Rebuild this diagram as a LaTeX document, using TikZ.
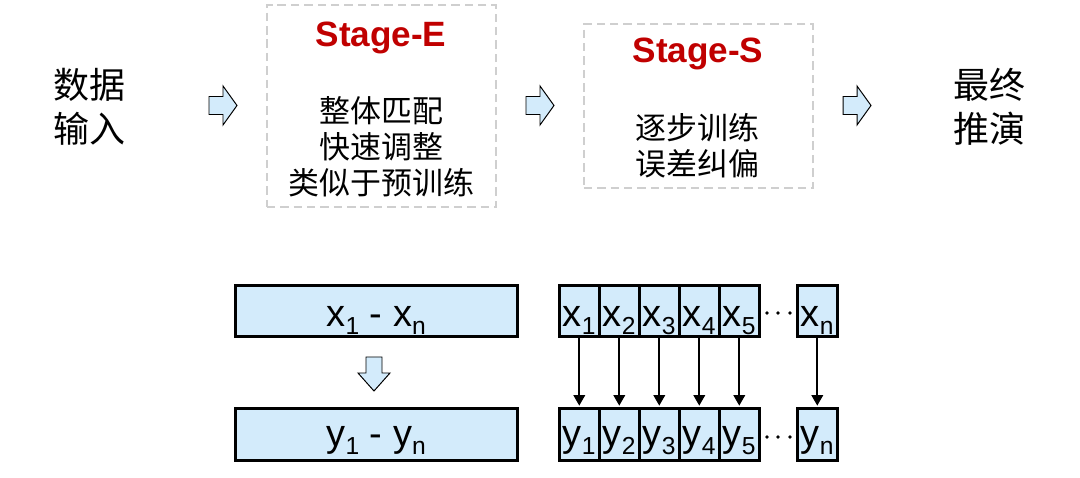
\documentclass[tikz,border=0pt]{standalone}
\usepackage{fontspec}
\setmainfont{Liberation Sans}
\newfontfamily\cjk{Noto Sans CJK SC}
\usetikzlibrary{arrows.meta}
\definecolor{cellblue}{HTML}{D3EBFB}
\definecolor{stagered}{HTML}{C00000}
\definecolor{dashgray}{HTML}{CFCFCF}
\newcommand{\subidx}[1]{\raisebox{-5.7pt}{\fontsize{17.5}{17.5}\selectfont #1}}
\newcommand{\rightflow}[1]{\draw[flowarrow] (#1) ++(0,-9) -- ++(14,0) -- ++(0,-10.5) -- ++(14,19.5) -- ++(-14,19.5) -- ++(0,-10.5) -- ++(-14,0) -- cycle;}
\tikzset{
  cellbox/.style={draw, line width=1.8pt, fill=cellblue, inner sep=0pt, minimum width=1cm, anchor=north west, font=\fontsize{27}{27}\selectfont},
  xrow/.style={text height=29.2pt, text depth=7.1pt},
  yrow/.style={text height=27pt, text depth=10pt},
  stagebox/.style={draw=dashgray, line width=1.4pt, dash pattern=on 6pt off 3.5pt, inner sep=0pt},
  stagetitle/.style={anchor=base, text=stagered, font=\bfseries\fontsize{25}{25}\selectfont},
  cjkbig/.style={align=center, font=\cjk\fontsize{25.6}{31.3}\selectfont},
  cjkbody/.style={align=center, font=\cjk\fontsize{22}{25.6}\selectfont},
  flowarrow/.style={draw=black, line width=0.7pt, fill=cellblue},
  cellarrow/.style={-{Triangle[length=7.5pt,width=8pt]}, line width=1.7pt, shorten >=0.9pt}
}
\begin{document}
\begin{tikzpicture}[x=0.025cm,y=-0.025cm]
    \useasboundingbox (0,0) rectangle (1080,478);
    %% top row: input, two stages, output
    \node (input) [cjkbig] at (89,107) {数据\\输入};
    \node (stageE) [stagebox, minimum width=5.725cm, minimum height=5.05cm] at (381.5,106) {};
    \node (titleE) [stagetitle] at (381,47) {Stage-E};
    \node (bodyE) [cjkbody] at (381.5,147) {整体匹配\\快速调整\\类似于预训练};
    \node (stageS) [stagebox, minimum width=5.725cm, minimum height=4.1cm] at (698.5,106) {};
    \node (titleS) [stagetitle] at (698,63) {Stage-S};
    \node (bodyS) [cjkbody] at (697.5,146) {逐步训练\\误差纠偏};
    \node (output) [cjkbig] at (989.5,107) {最终\\推演};
    %% flow arrows
    \rightflow{209,105.5}
    \rightflow{526,105.5}
    \rightflow{843,105.5}
    %% whole sequence at once
    \node (xall) [cellbox, xrow, minimum width=7.05cm] at (234,284) {x\subidx{1} - x\subidx{n}};
    \node (yall) [cellbox, yrow, minimum width=7.05cm] at (234,407) {y\subidx{1} - y\subidx{n}};
    \draw[flowarrow] (374,357) ++(-8,0) -- ++(16,0) -- ++(0,16) -- ++(8,0) -- ++(-16,18) -- ++(-16,-18) -- ++(8,0) -- cycle;
    %% step by step
    \foreach \i in {1,...,5} {
        \node (x\i) [cellbox, xrow] at ({558+40*(\i-1)},284) {x\subidx{\i}};
        \node (y\i) [cellbox, yrow] at ({558+40*(\i-1)},407) {y\subidx{\i}};
        \draw[cellarrow] (x\i.south) -- (y\i.north);
    }
    \node (xn) [cellbox, xrow] at (796,284) {x\subidx{n}};
    \node (yn) [cellbox, yrow] at (796,407) {y\subidx{n}};
    \draw[cellarrow] (xn.south) -- (yn.north);
    \foreach \dx in {767,778,790} {
        \fill (\dx,313) circle (1.4pt);
        \fill (\dx,437) circle (1.4pt);
    }
\end{tikzpicture}
\end{document}
